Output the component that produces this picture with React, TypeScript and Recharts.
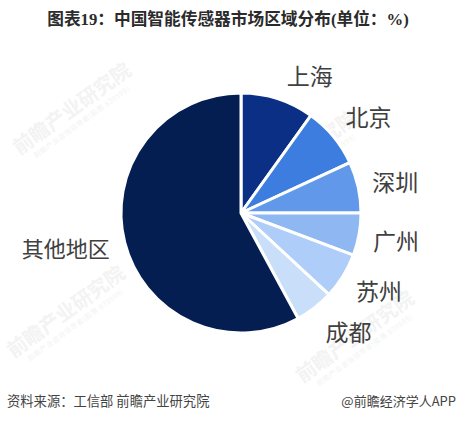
import React from 'react';
import { PieChart, Pie, Cell } from 'recharts';

const REGIONS = ['上海', '北京', '深圳', '广州', '苏州', '成都', '其他地区'];
const SHARES = [9.9, 8.2, 6.9, 5.7, 6.2, 5.2, 57.9];
const COLORS = ['#0b2f84', '#3c7ddf', '#6198ea', '#8fb8f2', '#aecdf8', '#c8def9', '#051e52'];

// label offsets from the slice's outer edge, the labels are not on one radius
const LABEL_SHIFT = [
  [32, -24],
  [35, -21],
  [37, -6],
  [37, 6],
  [36, 14],
  [34, 23],
  [-59, 5],
];

const WATERMARKS = [
  { x: 74, y: 112 },
  { x: 68, y: 315 },
  { x: 300, y: 160 },
  { x: 357, y: 340 },
];

const RAD = Math.PI / 180;

const renderLabel = (props: any) => {
  const { cx, cy, outerRadius, midAngle, index } = props;
  const [dx, dy] = LABEL_SHIFT[index];
  const x = cx + outerRadius * Math.cos(-midAngle * RAD) + dx;
  const y = cy + outerRadius * Math.sin(-midAngle * RAD) + dy;
  return (
    <text
      x={x}
      y={y}
      textAnchor="middle"
      dominantBaseline="central"
      fontSize={index === 6 ? 22 : 23}
      fill="#404040"
    >
      {REGIONS[index]}
    </text>
  );
};

export default function App() {
  const data = REGIONS.map((name, i) => ({ name, value: SHARES[i] }));

  return (
    <div
      style={{
        position: 'absolute',
        left: 0,
        top: 0,
        width: 456,
        height: 422,
        background: '#fff',
        overflow: 'hidden',
        fontFamily: '"Noto Sans CJK SC", sans-serif',
      }}
    >
      {WATERMARKS.map((w, i) => (
        <div
          key={i}
          style={{
            position: 'absolute',
            left: w.x - 80,
            top: w.y - 18,
            width: 160,
            textAlign: 'center',
            color: '#f3f3f3',
            whiteSpace: 'nowrap',
            transform: 'rotate(-36deg)',
          }}
        >
          <div style={{ fontSize: 20, lineHeight: '25px', fontWeight: 700 }}>前瞻产业研究院</div>
          <div style={{ fontSize: 7, lineHeight: '10px', letterSpacing: 0.5 }}>
            前瞻产业咨询领导者(股票 839599)
          </div>
        </div>
      ))}
      <div
        style={{
          position: 'absolute',
          left: 0,
          top: 8,
          width: 456,
          textAlign: 'center',
          fontSize: 16.7,
          lineHeight: '24px',
          fontWeight: 700,
          color: '#2b2b2b',
          whiteSpace: 'nowrap',
          fontFamily: '"Liberation Serif", "Noto Sans CJK SC", serif',
        }}
      >
        图表19：中国智能传感器市场区域分布(单位：%)
      </div>
      <div style={{ position: 'absolute', left: 0, top: 0 }}>
        <PieChart width={456} height={422} margin={{ top: 0, right: 0, bottom: 0, left: 0 }}>
          <Pie
            data={data}
            dataKey="value"
            cx={241}
            cy={213}
            innerRadius={0}
            outerRadius={120}
            startAngle={90}
            endAngle={-270}
            stroke="#fff"
            strokeWidth={3}
            label={renderLabel}
            labelLine={false}
            isAnimationActive={false}
          >
            {data.map((d, i) => (
              <Cell key={d.name} fill={COLORS[i]} />
            ))}
          </Pie>
        </PieChart>
      </div>
      <div
        style={{
          position: 'absolute',
          left: 7,
          top: 392,
          fontSize: 13.3,
          lineHeight: '18px',
          color: '#444',
          whiteSpace: 'nowrap',
        }}
      >
        资料来源：工信部 前瞻产业研究院
      </div>
      <div
        style={{
          position: 'absolute',
          right: 0,
          top: 392,
          fontSize: 13,
          lineHeight: '18px',
          color: '#444',
          whiteSpace: 'nowrap',
        }}
      >
        @前瞻经济学人APP
      </div>
    </div>
  );
}
